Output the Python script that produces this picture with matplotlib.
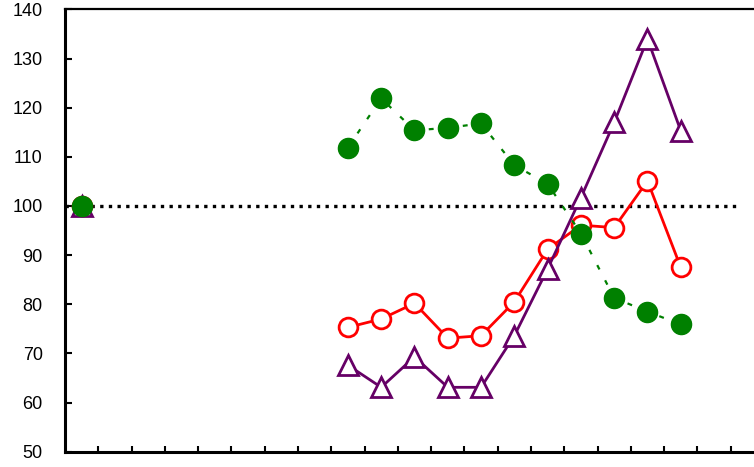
import numpy as np
import matplotlib
matplotlib.use('Agg')
import matplotlib.pyplot as plt

plt.rcParams['font.family'] = ['Liberation Sans', 'DejaVu Sans']

nan = np.nan
# 21 category slots, no labels on the x axis
x = list(range(21))
purple = [100, nan, nan, nan, nan, nan, nan, nan,
          67.6, 63.1, 69.3, 63.1, 63.1, 73.6, 87.2, 101.7, 117.0, 134.0, 115.3, nan, nan]
red = [100, nan, nan, nan, nan, nan, nan, nan,
       75.3, 77.0, 80.2, 73.1, 73.6, 80.5, 91.2, 96.1, 95.6, 105.1, 87.5, nan, nan]
green = [100, nan, nan, nan, nan, nan, nan, nan,
         111.9, 121.9, 115.4, 115.9, 116.8, 108.3, 104.5, 94.4, 81.3, 78.5, 75.9, nan, nan]
ref_level = 100
yticks = [50, 60, 70, 80, 90, 100, 110, 120, 130, 140]

fig = plt.figure(figsize=(7.54, 4.67), dpi=100)
ax = fig.add_axes([0.0862, 0.0328, 1 - 0.0862, 0.947])

ax.axhline(ref_level, xmax=0.981, color='black', lw=2.4, dashes=(1, 1.6), zorder=1)

ax.plot(x, red, color='#ff0000', lw=2, marker='o', ms=13.5,
        mfc='white', mec='#ff0000', mew=2, zorder=2)
ax.plot(x, purple, color='#660066', lw=2, marker='^', ms=14,
        mfc='white', mec='#660066', mew=2, zorder=3)
ax.plot(x, green, color='#008000', lw=1.6, dashes=(2.2, 5.5), marker='o', ms=14.5,
        mfc='#008000', mec='#008000', zorder=4)

ax.set_xlim(-0.5, 20.2)
ax.set_ylim(50, 140)
ax.set_yticks(yticks)
ax.set_xticks([i + 0.5 for i in range(20)])
ax.set_xticklabels([])
ax.tick_params(axis='y', direction='in', length=5, width=1.5, pad=16, labelsize=13)
ax.tick_params(axis='x', direction='in', length=4, width=1.5)

ax.spines['right'].set_visible(False)
ax.spines['left'].set_linewidth(2.2)
ax.spines['bottom'].set_linewidth(2.2)
ax.spines['top'].set_linewidth(1.6)

plt.savefig('out.png', dpi=100)
